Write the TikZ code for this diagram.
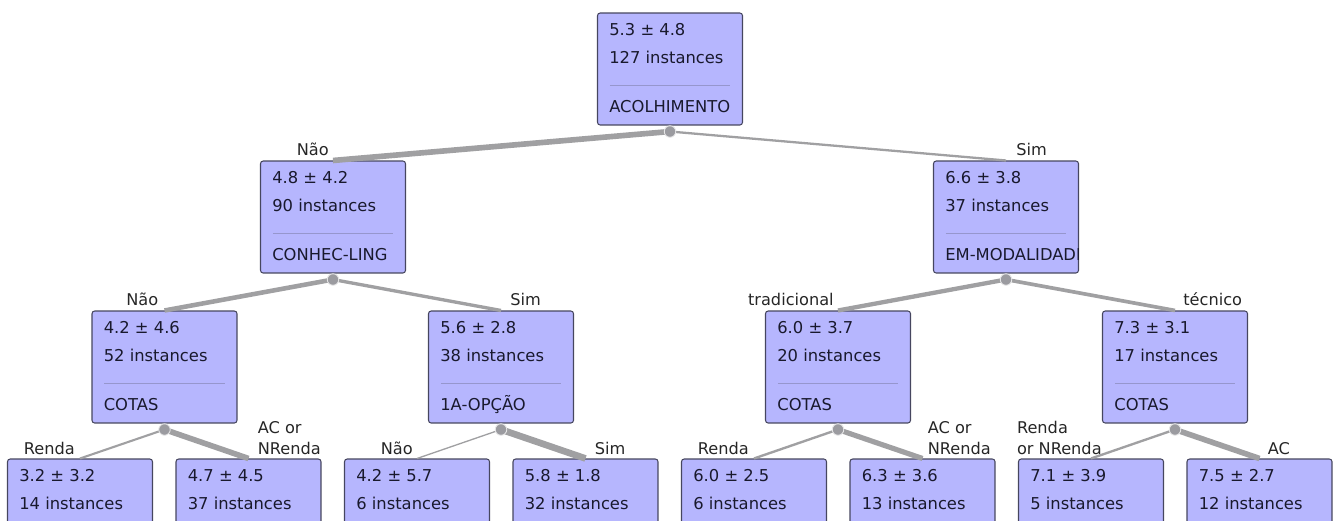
\documentclass[tikz,border=0pt]{standalone}
\usepackage{fontspec}
\setmainfont{DejaVu Sans}
\usetikzlibrary{positioning,calc}

\definecolor{boxfill}{RGB}{182,182,254}
\definecolor{boxline}{RGB}{70,70,95}
\definecolor{sepgray}{RGB}{150,150,205}
\definecolor{edgegray}{RGB}{160,160,162}
\definecolor{dotgray}{RGB}{155,155,160}
\definecolor{boxtxt}{RGB}{25,25,45}

% split node: name, position, mean, instances, attribute
\newcommand{\splitnode}[5]{%
  \node[treebox] (#1) at (#2) {};
  \begin{scope}
    \clip ($(#1.south west)+(1,-1)$) rectangle ($(#1.north east)+(-1,1)$);
    \node[boxtext] (#1-val) at ($(#1.north west)+(12,23.5)$) {#3};
    \node[boxtext] (#1-n)   at ($(#1.north west)+(12,51)$) {#4 instances};
    \draw[sepline] ($(#1.north west)+(13,72.5)$) -- ($(#1.north east)+(-13,72.5)$);
    \node[boxtext] (#1-att) at ($(#1.north west)+(12,100)$) {#5};
  \end{scope}
  \coordinate (#1-dot) at ($(#1.south)+(0,6)$);
}
% leaf node: name, position, mean, instances
\newcommand{\leafnode}[4]{%
  \node[treebox] (#1) at (#2) {};
  \node[boxtext] (#1-val) at ($(#1.north west)+(12,23.5)$) {#3};
  \node[boxtext] (#1-n)   at ($(#1.north west)+(12,51)$) {#4 instances};
}

\begin{document}
\begin{tikzpicture}[x=0.02cm,y=-0.02cm,
    treebox/.style={draw=boxline,fill=boxfill,line width=0.6pt,rounded corners=1.5pt,
                    minimum width=2.9cm,minimum height=2.24cm,inner sep=0pt},
    boxtext/.style={anchor=base west,inner sep=0pt,text=boxtxt,font=\fontsize{9.3}{11}\selectfont},
    sepline/.style={draw=sepgray,line width=0.5pt},
    branch/.style={draw=edgegray},
    splitdot/.style={circle,fill=dotgray,draw=white!75!dotgray,line width=0.5pt,
                     inner sep=0pt,minimum size=0.23cm},
    lbl/.style={inner sep=0pt,text depth=0pt,align=left,text=black!85,
                font=\fontsize{9.2}{11.9}\selectfont}]

  \useasboundingbox (0,0) rectangle (1333,521);
  \clip (0,0) rectangle (1333,521);

  % boxes
  \splitnode{acolh}{670,69}{5.3 ± 4.8}{127}{ACOLHIMENTO}
  \splitnode{conhec}{333,217}{4.8 ± 4.2}{90}{CONHEC-LING}
  \splitnode{emmod}{1006,217}{6.6 ± 3.8}{37}{EM-MODALIDADE}
  \splitnode{cotasa}{164.5,367}{4.2 ± 4.6}{52}{COTAS}
  \splitnode{opcao}{501,367}{5.6 ± 2.8}{38}{1A-OPÇÃO}
  \splitnode{cotasb}{838,367}{6.0 ± 3.7}{20}{COTAS}
  \splitnode{cotasc}{1175,367}{7.3 ± 3.1}{17}{COTAS}

  \leafnode{rendaa}{80,515}{3.2 ± 3.2}{14}
  \leafnode{aca}{248.5,515}{4.7 ± 4.5}{37}
  \leafnode{naob}{417,515}{4.2 ± 5.7}{6}
  \leafnode{simb}{585.5,515}{5.8 ± 1.8}{32}
  \leafnode{rendac}{754,515}{6.0 ± 2.5}{6}
  \leafnode{acc}{922.5,515}{6.3 ± 3.6}{13}
  \leafnode{rendad}{1091,515}{7.1 ± 3.9}{5}
  \leafnode{acd}{1259.5,515}{7.5 ± 2.7}{12}

  % branches
  \draw[branch,line width=3.2pt] (acolh-dot) -- (conhec.north);
  \draw[branch,line width=1.3pt] (acolh-dot) -- (emmod.north);
  \draw[branch,line width=2.6pt] (conhec-dot) -- (cotasa.north);
  \draw[branch,line width=1.9pt] (conhec-dot) -- (opcao.north);
  \draw[branch,line width=2.45pt] (emmod-dot) -- (cotasb.north);
  \draw[branch,line width=2.1pt] (emmod-dot) -- (cotasc.north);
  \draw[branch,line width=1.2pt] (cotasa-dot) -- (rendaa.north);
  \draw[branch,line width=3.2pt] (cotasa-dot) -- (aca.north);
  \draw[branch,line width=0.75pt] (opcao-dot) -- (naob.north);
  \draw[branch,line width=3.8pt] (opcao-dot) -- (simb.north);
  \draw[branch,line width=1.35pt] (cotasb-dot) -- (rendac.north);
  \draw[branch,line width=2.95pt] (cotasb-dot) -- (acc.north);
  \draw[branch,line width=1.33pt] (cotasc-dot) -- (rendad.north);
  \draw[branch,line width=3.2pt] (cotasc-dot) -- (acd.north);

  \node[splitdot] (acolh-knob) at (acolh-dot) {};
  \node[splitdot] (conhec-knob) at (conhec-dot) {};
  \node[splitdot] (emmod-knob) at (emmod-dot) {};
  \node[splitdot] (cotasa-knob) at (cotasa-dot) {};
  \node[splitdot] (opcao-knob) at (opcao-dot) {};
  \node[splitdot] (cotasb-knob) at (cotasb-dot) {};
  \node[splitdot] (cotasc-knob) at (cotasc-dot) {};

  % branch labels
  \node[lbl,anchor=south east] (l-conhec) at ($(conhec.north)+(-4,-5)$) {Não};
  \node[lbl,anchor=south west] (l-emmod) at ($(emmod.north)+(10,-5)$) {Sim};
  \node[lbl,anchor=south east] (l-cotasa) at ($(cotasa.north)+(-6,-5)$) {Não};
  \node[lbl,anchor=south west] (l-opcao) at ($(opcao.north)+(9,-5)$) {Sim};
  \node[lbl,anchor=south east] (l-cotasb) at ($(cotasb.north)+(-4,-5)$) {tradicional};
  \node[lbl,anchor=south west] (l-cotasc) at ($(cotasc.north)+(8,-5)$) {técnico};
  \node[lbl,anchor=south east] (l-rendaa) at ($(rendaa.north)+(-5,-4)$) {Renda};
  \node[lbl,anchor=south west] (l-aca) at ($(aca.north)+(9,-4)$) {AC or\\NRenda};
  \node[lbl,anchor=south east] (l-naob) at ($(naob.north)+(-4,-4)$) {Não};
  \node[lbl,anchor=south west] (l-simb) at ($(simb.north)+(9,-4)$) {Sim};
  \node[lbl,anchor=south east] (l-rendac) at ($(rendac.north)+(-5,-4)$) {Renda};
  \node[lbl,anchor=south west] (l-acc) at ($(acc.north)+(5,-4)$) {AC or\\NRenda};
  \node[lbl,anchor=south east] (l-rendad) at ($(rendad.north)+(11,-4)$) {Renda\\or NRenda};
  \node[lbl,anchor=south west] (l-acd) at ($(acd.north)+(8,-4)$) {AC};
\end{tikzpicture}
\end{document}
